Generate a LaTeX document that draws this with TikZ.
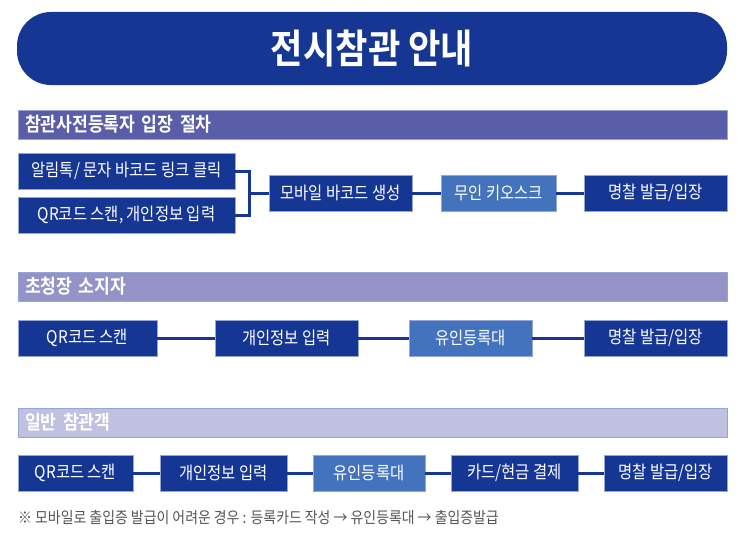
\documentclass[tikz,border=0pt]{standalone}
\usepackage{fontspec}
\setmainfont{Noto Sans CJK KR}[FakeStretch=0.88, BoldFont={Noto Sans CJK KR Bold}]
\usetikzlibrary{positioning}

\definecolor{navy}{RGB}{22,54,148}
\definecolor{skyblue}{RGB}{66,115,188}
\definecolor{barone}{RGB}{90,94,168}
\definecolor{bartwo}{RGB}{147,147,200}
\definecolor{barthree}{RGB}{192,192,224}
\definecolor{edgeline}{RGB}{150,165,215}

\begin{document}
\begin{tikzpicture}[x=1pt, y=1pt,
titlebar/.style={rectangle, rounded corners=34pt, fill=navy, minimum width=710pt, minimum height=73pt, text=white, font=\fontsize{40}{42}\selectfont\bfseries},
headbar/.style={rectangle, draw=edgeline, line width=0.5pt, minimum height=29pt, text width=695pt, inner xsep=7pt, align=left, text=white, font=\fontsize{19.5}{21}\selectfont\bfseries},
stepbox/.style={rectangle, draw=edgeline, line width=0.5pt, fill=navy, minimum height=36pt, inner sep=0pt, text=white, font=\fontsize{17.5}{19}\selectfont},
deskbox/.style={stepbox, fill=skyblue},
link/.style={navy, line width=3pt},
]
\useasboundingbox (0,0) rectangle (746,-543);

%Title
\node[titlebar] (title) at (372,-48.5) {전시참관 안내};

%Section 1
\node[headbar, fill=barone] (headone) at (372.5,-124.5) {참관사전등록자 입장 절차};
\node[stepbox, minimum width=217pt] (alimtalk) at (126.5,-171) {알림톡/ 문자 바코드 링크 클릭};
\node[stepbox, minimum width=217pt] (qrinput) at (126.5,-215) {QR코드 스캔, 개인정보 입력};
\node[stepbox, minimum width=143pt] (mobilecode) at (340.5,-193) {모바일 바코드 생성};
\node[deskbox, minimum width=115pt] (kiosk) at (498.5,-193) {무인 키오스크};
\node[stepbox, minimum width=143pt] (badgeone) at (655.5,-193) {명찰 발급/입장};
\coordinate (joint) at (249,-193);

%Section 2
\node[headbar, fill=bartwo] (headtwo) at (372.5,-286.5) {초청장 소지자};
\node[stepbox, minimum width=139pt] (qrtwo) at (87.5,-338) {QR코드 스캔};
\node[stepbox, minimum width=143pt] (infotwo) at (286.5,-338) {개인정보 입력};
\node[deskbox, minimum width=123pt] (desktwo) at (470.5,-338) {유인등록대};
\node[stepbox, minimum width=143pt] (badgetwo) at (655.5,-338) {명찰 발급/입장};

%Section 3
\node[headbar, fill=barthree] (headthree) at (372.5,-422.5) {일반 참관객};
\node[stepbox, minimum width=115pt] (qrthree) at (75.5,-473) {QR코드 스캔};
\node[stepbox, minimum width=127pt] (infothree) at (223.5,-473) {개인정보 입력};
\node[deskbox, minimum width=112pt] (deskthree) at (369,-473) {유인등록대};
\node[stepbox, minimum width=127pt] (payment) at (514.5,-473) {카드/현금 결제};
\node[stepbox, minimum width=123pt] (badgethree) at (665.5,-473) {명찰 발급/입장};

%Note
\node[anchor=west, inner sep=0pt, text={rgb,255:red,85;green,85;blue,85}, font=\fontsize{15.8}{17}\selectfont] (note) at (18,-518) {※ 모바일로 출입증 발급이 어려운 경우 : 등록카드 작성 → 유인등록대 → 출입증발급};

%Lines
\draw[link] (alimtalk.east) -| (joint);
\draw[link] (qrinput.east) -| (joint);
\draw[link] (joint) -- (mobilecode.west);
\draw[link] (mobilecode.east) -- (kiosk.west);
\draw[link] (kiosk.east) -- (badgeone.west);

\draw[link] (qrtwo.east) -- (infotwo.west);
\draw[link] (infotwo.east) -- (desktwo.west);
\draw[link] (desktwo.east) -- (badgetwo.west);

\draw[link] (qrthree.east) -- (infothree.west);
\draw[link] (infothree.east) -- (deskthree.west);
\draw[link] (deskthree.east) -- (payment.west);
\draw[link] (payment.east) -- (badgethree.west);
\end{tikzpicture}
\end{document}
